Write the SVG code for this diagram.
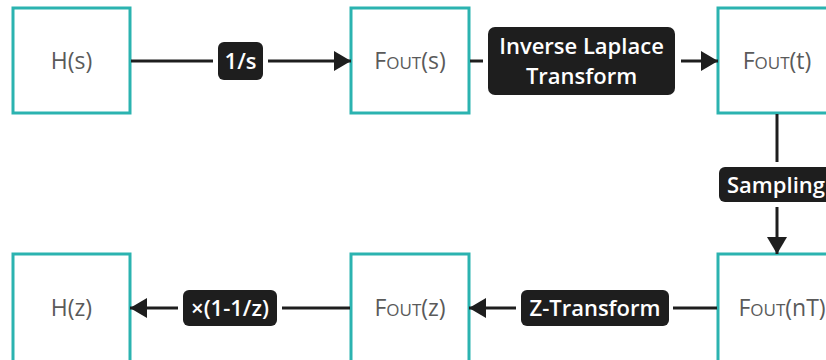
<svg xmlns="http://www.w3.org/2000/svg" width="826" height="360" viewBox="0 0 826 360">
  <style>
    .box { fill: #ffffff; stroke: #2bb3b0; stroke-width: 3; }
    .node-text { font-family: "Open Sans", "Noto Sans", sans-serif; font-size: 23px; fill: #5a5a5a; text-anchor: middle; }
    .sc { font-size: 17px; }
    .wire { fill: none; stroke: #1e1e1e; stroke-width: 3; }
    .tag { fill: #1e1e1e; }
    .tag-text { font-family: "Open Sans", "Noto Sans", sans-serif; font-size: 22px; font-weight: 600; fill: #ffffff; text-anchor: middle; }
  </style>
  <defs>
    <marker id="arrow" markerUnits="userSpaceOnUse" markerWidth="18" markerHeight="20" refX="17" refY="10" orient="auto">
      <path d="M0,0 L17,10 L0,20 Z" fill="#1e1e1e"/>
    </marker>
  </defs>

  <rect width="826" height="360" fill="#ffffff"/>

  <!-- nodes -->
  <g id="node-hs">
    <rect class="box" x="13" y="8" width="117" height="105"/>
    <text class="node-text" x="71.5" y="69">H(s)</text>
  </g>
  <g id="node-fout-s">
    <rect class="box" x="351" y="8" width="118" height="105"/>
    <text class="node-text" x="410" y="69">F<tspan class="sc">OUT</tspan>(s)</text>
  </g>
  <g id="node-fout-t">
    <rect class="box" x="718" y="8" width="117" height="105"/>
    <text class="node-text" x="777" y="69">F<tspan class="sc">OUT</tspan>(t)</text>
  </g>
  <g id="node-fout-nt">
    <rect class="box" x="718" y="254" width="117" height="110"/>
    <text class="node-text" x="782" y="316">F<tspan class="sc">OUT</tspan>(nT)</text>
  </g>
  <g id="node-fout-z">
    <rect class="box" x="351" y="254" width="118" height="110"/>
    <text class="node-text" x="410" y="316">F<tspan class="sc">OUT</tspan>(z)</text>
  </g>
  <g id="node-hz">
    <rect class="box" x="13" y="254" width="117" height="110"/>
    <text class="node-text" x="71.5" y="316">H(z)</text>
  </g>

  <!-- connectors with their labels -->
  <g id="connectors">
    <g id="edge-hs-fout-s">
      <path class="wire" d="M131,61 H213"/>
      <path class="wire" d="M268,61 H351" marker-end="url(#arrow)"/>
      <rect class="tag" x="218" y="42" width="45" height="38" rx="6"/>
      <text class="tag-text" x="240.5" y="69">1/s</text>
    </g>
    <g id="edge-fout-s-fout-t">
      <path class="wire" d="M470,61 H483"/>
      <path class="wire" d="M681,61 H718" marker-end="url(#arrow)"/>
      <rect class="tag" x="488" y="27" width="187" height="68" rx="7"/>
      <text class="tag-text" x="581.5" y="54">Inverse Laplace</text>
      <text class="tag-text" x="581.5" y="84">Transform</text>
    </g>
    <g id="edge-fout-t-fout-nt">
      <path class="wire" d="M777,114 V162"/>
      <path class="wire" d="M777,207 V254" marker-end="url(#arrow)"/>
      <rect class="tag" x="719" y="167" width="116" height="35" rx="6"/>
      <text class="tag-text" x="776" y="192.5">Sampling</text>
    </g>
    <g id="edge-fout-nt-fout-z">
      <path class="wire" d="M717,308 H673"/>
      <path class="wire" d="M516,308 H469" marker-end="url(#arrow)"/>
      <rect class="tag" x="521" y="290" width="148" height="36" rx="6"/>
      <text class="tag-text" x="595" y="316">Z-Transform</text>
    </g>
    <g id="edge-fout-z-hz">
      <path class="wire" d="M350,308 H282"/>
      <path class="wire" d="M178,308 H130" marker-end="url(#arrow)"/>
      <rect class="tag" x="183" y="290" width="94" height="36" rx="6"/>
      <text class="tag-text" x="230" y="316">×(1-1/z)</text>
    </g>
  </g>
</svg>
